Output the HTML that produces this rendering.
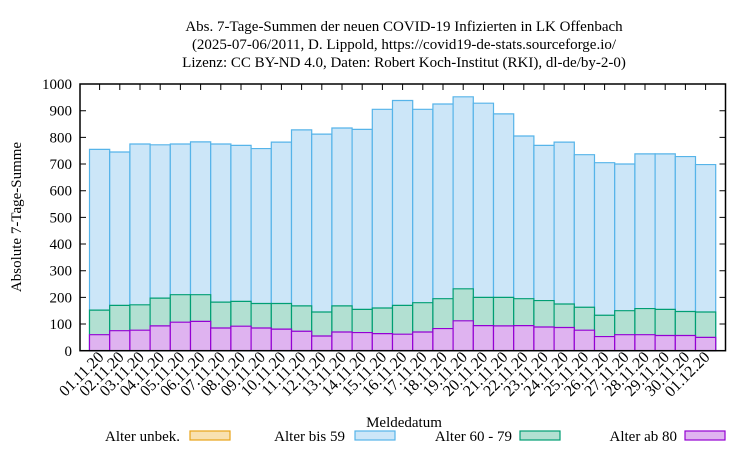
<!DOCTYPE html>
<html><head><meta charset="utf-8"><style>body{margin:0;background:#fff}svg{display:block}text{font-family:"Liberation Serif",serif;fill:#000;font-size:15px}
.a rect{fill:#cce6f8;stroke:#56b4e9;stroke-width:1.2px;vector-effect:non-scaling-stroke}
.b rect{fill:#b2e0d2;stroke:#009e73;stroke-width:1.2px;vector-effect:non-scaling-stroke}
.c rect{fill:#dfb3f0;stroke:#9400d3;stroke-width:1.2px;vector-effect:non-scaling-stroke}
.xl text{text-anchor:end;font-size:16px}</style></head>
<body>
<svg width="750" height="450" viewBox="0 0 750 450" xmlns="http://www.w3.org/2000/svg">
<g text-anchor="middle">
<text x="404" y="31">Abs. 7-Tage-Summen der neuen COVID-19 Infizierten in LK Offenbach</text>
<text x="404" y="49">(2025-07-06/2011, D. Lippold, https://covid19-de-stats.sourceforge.io/</text>
<text x="404" y="67">Lizenz: CC BY-ND 4.0, Daten: Robert Koch-Institut (RKI), dl-de/by-2-0)</text>
</g>
<g transform="translate(0,350.7) scale(1,-0.2667)">
<g class="a">
<rect x="89.5" y="0" width="20.2" height="755"/><rect x="109.7" y="0" width="20.2" height="745"/><rect x="129.9" y="0" width="20.2" height="775"/><rect x="150.1" y="0" width="20.2" height="772"/><rect x="170.3" y="0" width="20.2" height="775"/><rect x="190.5" y="0" width="20.2" height="783"/><rect x="210.7" y="0" width="20.2" height="775"/><rect x="230.9" y="0" width="20.2" height="770"/><rect x="251.1" y="0" width="20.2" height="758"/><rect x="271.3" y="0" width="20.2" height="782"/><rect x="291.5" y="0" width="20.2" height="828"/><rect x="311.7" y="0" width="20.2" height="812"/><rect x="331.9" y="0" width="20.2" height="835"/><rect x="352.1" y="0" width="20.2" height="830"/><rect x="372.3" y="0" width="20.2" height="905"/><rect x="392.5" y="0" width="20.2" height="938"/><rect x="412.7" y="0" width="20.2" height="905"/><rect x="432.9" y="0" width="20.2" height="925"/><rect x="453.1" y="0" width="20.2" height="952"/><rect x="473.3" y="0" width="20.2" height="928"/><rect x="493.5" y="0" width="20.2" height="888"/><rect x="513.7" y="0" width="20.2" height="805"/><rect x="533.9" y="0" width="20.2" height="770"/><rect x="554.1" y="0" width="20.2" height="782"/><rect x="574.3" y="0" width="20.2" height="735"/><rect x="594.5" y="0" width="20.2" height="705"/><rect x="614.7" y="0" width="20.2" height="700"/><rect x="634.9" y="0" width="20.2" height="738"/><rect x="655.1" y="0" width="20.2" height="738"/><rect x="675.3" y="0" width="20.2" height="728"/><rect x="695.5" y="0" width="20.2" height="698"/>
</g>
<g class="b">
<rect x="89.5" y="0" width="20.2" height="152"/><rect x="109.7" y="0" width="20.2" height="170"/><rect x="129.9" y="0" width="20.2" height="172"/><rect x="150.1" y="0" width="20.2" height="197"/><rect x="170.3" y="0" width="20.2" height="210"/><rect x="190.5" y="0" width="20.2" height="210"/><rect x="210.7" y="0" width="20.2" height="182"/><rect x="230.9" y="0" width="20.2" height="185"/><rect x="251.1" y="0" width="20.2" height="177"/><rect x="271.3" y="0" width="20.2" height="177"/><rect x="291.5" y="0" width="20.2" height="168"/><rect x="311.7" y="0" width="20.2" height="145"/><rect x="331.9" y="0" width="20.2" height="168"/><rect x="352.1" y="0" width="20.2" height="155"/><rect x="372.3" y="0" width="20.2" height="160"/><rect x="392.5" y="0" width="20.2" height="170"/><rect x="412.7" y="0" width="20.2" height="180"/><rect x="432.9" y="0" width="20.2" height="195"/><rect x="453.1" y="0" width="20.2" height="232"/><rect x="473.3" y="0" width="20.2" height="200"/><rect x="493.5" y="0" width="20.2" height="200"/><rect x="513.7" y="0" width="20.2" height="195"/><rect x="533.9" y="0" width="20.2" height="188"/><rect x="554.1" y="0" width="20.2" height="175"/><rect x="574.3" y="0" width="20.2" height="163"/><rect x="594.5" y="0" width="20.2" height="133"/><rect x="614.7" y="0" width="20.2" height="150"/><rect x="634.9" y="0" width="20.2" height="158"/><rect x="655.1" y="0" width="20.2" height="155"/><rect x="675.3" y="0" width="20.2" height="147"/><rect x="695.5" y="0" width="20.2" height="145"/>
</g>
<g class="c">
<rect x="89.5" y="0" width="20.2" height="60"/><rect x="109.7" y="0" width="20.2" height="75"/><rect x="129.9" y="0" width="20.2" height="77"/><rect x="150.1" y="0" width="20.2" height="93"/><rect x="170.3" y="0" width="20.2" height="107"/><rect x="190.5" y="0" width="20.2" height="110"/><rect x="210.7" y="0" width="20.2" height="85"/><rect x="230.9" y="0" width="20.2" height="92"/><rect x="251.1" y="0" width="20.2" height="85"/><rect x="271.3" y="0" width="20.2" height="81"/><rect x="291.5" y="0" width="20.2" height="73"/><rect x="311.7" y="0" width="20.2" height="55"/><rect x="331.9" y="0" width="20.2" height="70"/><rect x="352.1" y="0" width="20.2" height="68"/><rect x="372.3" y="0" width="20.2" height="64"/><rect x="392.5" y="0" width="20.2" height="62"/><rect x="412.7" y="0" width="20.2" height="70"/><rect x="432.9" y="0" width="20.2" height="83"/><rect x="453.1" y="0" width="20.2" height="112"/><rect x="473.3" y="0" width="20.2" height="94"/><rect x="493.5" y="0" width="20.2" height="93"/><rect x="513.7" y="0" width="20.2" height="94"/><rect x="533.9" y="0" width="20.2" height="89"/><rect x="554.1" y="0" width="20.2" height="87"/><rect x="574.3" y="0" width="20.2" height="77"/><rect x="594.5" y="0" width="20.2" height="53"/><rect x="614.7" y="0" width="20.2" height="60"/><rect x="634.9" y="0" width="20.2" height="60"/><rect x="655.1" y="0" width="20.2" height="57"/><rect x="675.3" y="0" width="20.2" height="57"/><rect x="695.5" y="0" width="20.2" height="50"/>
</g>
</g>
<rect x="80" y="84" width="645.5" height="266.7" fill="none" stroke="#000" stroke-width="1.5"/>
<path stroke="#000" stroke-width="1" fill="none" d="M80 324h6M80 297.4h6M80 270.7h6M80 244h6M80 217.4h6M80 190.7h6M80 164h6M80 137.4h6M80 110.7h6M725.5 324h-6M725.5 297.4h-6M725.5 270.7h-6M725.5 244h-6M725.5 217.4h-6M725.5 190.7h-6M725.5 164h-6M725.5 137.4h-6M725.5 110.7h-6
M99.6 84v6M119.8 84v6M140 84v6M160.2 84v6M180.4 84v6M200.6 84v6M220.8 84v6M241 84v6M261.2 84v6M281.4 84v6M301.6 84v6M321.8 84v6M342 84v6M362.2 84v6M382.4 84v6M402.6 84v6M422.8 84v6M443 84v6M463.2 84v6M483.4 84v6M503.6 84v6M523.8 84v6M544 84v6M564.2 84v6M584.4 84v6M604.6 84v6M624.8 84v6M645 84v6M665.2 84v6M685.4 84v6M705.6 84v6"/>
<g text-anchor="end">
<text x="72" y="356">0</text><text x="72" y="329">100</text><text x="72" y="302.4">200</text><text x="72" y="275.7">300</text><text x="72" y="249">400</text><text x="72" y="222.4">500</text><text x="72" y="195.7">600</text><text x="72" y="169">700</text><text x="72" y="142.4">800</text><text x="72" y="115.7">900</text><text x="72" y="89">1000</text>
</g>
<g class="xl">
<text transform="translate(104.6,358) rotate(-45)">01.11.20</text><text transform="translate(124.8,358) rotate(-45)">02.11.20</text><text transform="translate(145,358) rotate(-45)">03.11.20</text><text transform="translate(165.2,358) rotate(-45)">04.11.20</text><text transform="translate(185.4,358) rotate(-45)">05.11.20</text><text transform="translate(205.6,358) rotate(-45)">06.11.20</text><text transform="translate(225.8,358) rotate(-45)">07.11.20</text><text transform="translate(246,358) rotate(-45)">08.11.20</text><text transform="translate(266.2,358) rotate(-45)">09.11.20</text><text transform="translate(286.4,358) rotate(-45)">10.11.20</text><text transform="translate(306.6,358) rotate(-45)">11.11.20</text><text transform="translate(326.8,358) rotate(-45)">12.11.20</text><text transform="translate(347,358) rotate(-45)">13.11.20</text><text transform="translate(367.2,358) rotate(-45)">14.11.20</text><text transform="translate(387.4,358) rotate(-45)">15.11.20</text><text transform="translate(407.6,358) rotate(-45)">16.11.20</text><text transform="translate(427.8,358) rotate(-45)">17.11.20</text><text transform="translate(448,358) rotate(-45)">18.11.20</text><text transform="translate(468.2,358) rotate(-45)">19.11.20</text><text transform="translate(488.4,358) rotate(-45)">20.11.20</text><text transform="translate(508.6,358) rotate(-45)">21.11.20</text><text transform="translate(528.8,358) rotate(-45)">22.11.20</text><text transform="translate(549,358) rotate(-45)">23.11.20</text><text transform="translate(569.2,358) rotate(-45)">24.11.20</text><text transform="translate(589.4,358) rotate(-45)">25.11.20</text><text transform="translate(609.6,358) rotate(-45)">26.11.20</text><text transform="translate(629.8,358) rotate(-45)">27.11.20</text><text transform="translate(650,358) rotate(-45)">28.11.20</text><text transform="translate(670.2,358) rotate(-45)">29.11.20</text><text transform="translate(690.4,358) rotate(-45)">30.11.20</text><text transform="translate(710.6,358) rotate(-45)">01.12.20</text>
</g>
<text transform="translate(21,217) rotate(-90)" text-anchor="middle">Absolute 7-Tage-Summe</text>
<text x="404" y="427" text-anchor="middle">Meldedatum</text>
<g text-anchor="end">
<text x="180" y="441">Alter unbek.</text><rect x="190" y="431" width="40" height="9" fill="#f8e1b0" stroke="#e8a317" stroke-width="1.2"/>
<text x="345" y="441">Alter bis 59</text><rect x="355" y="431" width="40" height="9" fill="#cce6f8" stroke="#56b4e9" stroke-width="1.2"/>
<text x="512" y="441">Alter 60 - 79</text><rect x="520" y="431" width="40" height="9" fill="#b2e0d2" stroke="#009e73" stroke-width="1.2"/>
<text x="677" y="441">Alter ab 80</text><rect x="685" y="431" width="40" height="9" fill="#dfb3f0" stroke="#9400d3" stroke-width="1.2"/>
</g>
</svg>
</body></html>
